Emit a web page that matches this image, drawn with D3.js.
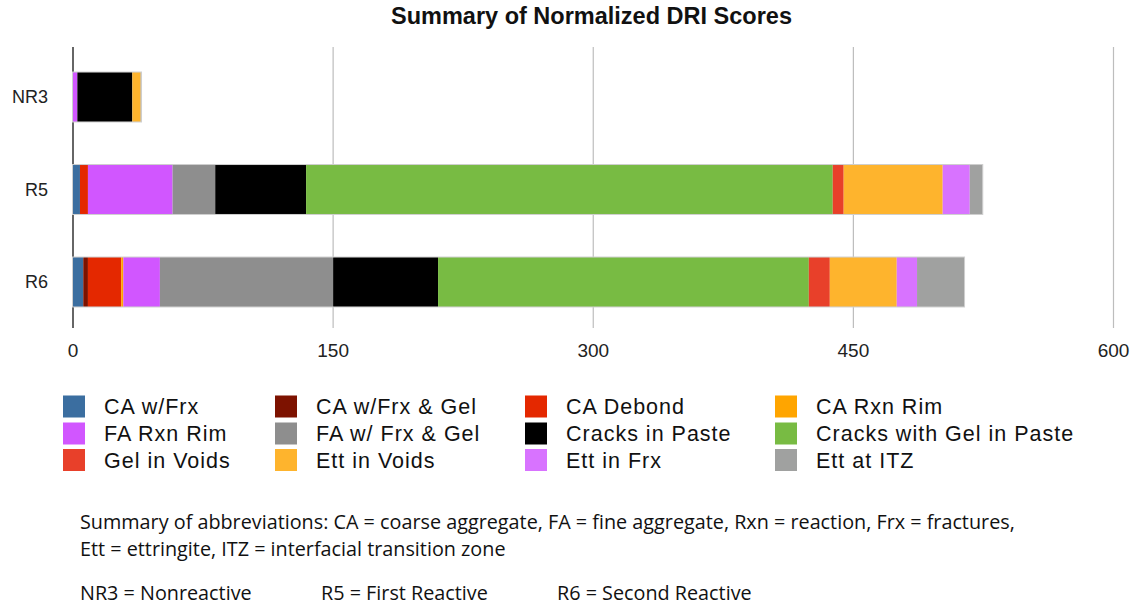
<!DOCTYPE html>
<html>
<head>
<meta charset="utf-8">
<script src="https://cdn.jsdelivr.net/npm/d3@7"></script>
<style>
  html, body { margin: 0; padding: 0; background: #fff; }
  svg { display: block; }
</style>
</head>
<body>
<svg id="chart" width="1133" height="607"></svg>
<script>
// Sample groups (rows of the chart)
const categories = ["NR3", "R5", "R6"];

// Distress features, in stacking order
const seriesNames = [
  "CA w/Frx", "CA w/Frx & Gel", "CA Debond", "CA Rxn Rim",
  "FA Rxn Rim", "FA w/ Frx & Gel", "Cracks in Paste", "Cracks with Gel in Paste",
  "Gel in Voids", "Ett in Voids", "Ett in Frx", "Ett at ITZ"
];

const seriesColors = [
  "#3b6ea0", "#7d1200", "#e42800", "#ffa500",
  "#d156ff", "#8e8e8e", "#000000", "#78bb43",
  "#e8402a", "#feb42d", "#d873ff", "#a0a1a0"
];

// Normalized DRI score for each feature, per sample [NR3, R5, R6]
const caWithFrx        = [0,    4.3,   6.2];
const caWithFrxGel     = [0,    0,     2.7];
const caDebond         = [0,    4.6,  19.2];
const caRxnRim         = [0,    0,     1.2];
const faRxnRim         = [2.8,  48.8,  21.1];
const faWithFrxGel     = [0,    24.6,  99.9];
const cracksInPaste    = [31.7, 52.4,  60.5];
const cracksGelPaste   = [0,    303.7, 213.8];
const gelInVoids       = [0,    6.3,   12.1];
const ettInVoids       = [4.8,  57.1,  38.6];
const ettInFrx         = [0,    15.6,  11.7];
const ettAtITZ         = [0.5,  7.5,   27.4];

const tickValues = [0, 150, 300, 450, 600];

const footLines = [
  "Summary of abbreviations: CA = coarse aggregate, FA = fine aggregate, Rxn = reaction, Frx = fractures,",
  "Ett = ettringite, ITZ = interfacial transition zone"
];
const sampleKey = ["NR3 = Nonreactive", "R5 = First Reactive", "R6 = Second Reactive"];

// Build the table that d3.stack expects
const seriesValues = [
  caWithFrx, caWithFrxGel, caDebond, caRxnRim,
  faRxnRim, faWithFrxGel, cracksInPaste, cracksGelPaste,
  gelInVoids, ettInVoids, ettInFrx, ettAtITZ
];
const table = categories.map((c, i) => {
  const row = { category: c };
  seriesNames.forEach((s, k) => { row[s] = seriesValues[k][i]; });
  return row;
});

const svg = d3.select("#chart");
const font = "'Liberation Sans', Arial, sans-serif";

const x = d3.scaleLinear().domain([0, 600]).range([72.5, 1113]);
const y = d3.scaleBand().domain(categories).range([50.75, 328.25])
  .paddingInner(0.46).paddingOuter(0.23);
const color = d3.scaleOrdinal().domain(seriesNames).range(seriesColors);

const gridTop = 47, gridBottom = 328;

// Title
svg.append("text")
  .attr("x", 591.5).attr("y", 24)
  .attr("text-anchor", "middle")
  .style("font-family", font).style("font-weight", "bold")
  .style("font-size", "23.5px").attr("fill", "#111")
  .text("Summary of Normalized DRI Scores");

// Vertical grid + tick labels
const axis = svg.append("g")
  .attr("transform", `translate(0,${gridBottom})`)
  .call(d3.axisBottom(x).tickValues(tickValues)
    .tickSize(-(gridBottom - gridTop)).tickPadding(16).tickFormat(d3.format("d")));
axis.select(".domain").remove();
axis.selectAll(".tick line").attr("stroke", d => d === 0 ? "#333" : "#bdbdbd").attr("stroke-width", d => d === 0 ? 1.5 : 1.2);
axis.selectAll(".tick text")
  .style("font-family", font).style("font-size", "19px").attr("fill", "#222");

// Stacked bars
const stacked = d3.stack().keys(seriesNames)(table);
const bars = svg.append("g");
bars.selectAll("g.series").data(stacked).join("g")
  .attr("class", "series")
  .attr("fill", d => color(d.key))
  .selectAll("rect").data(d => d).join("rect")
    .attr("x", d => x(d[0]))
    .attr("width", d => Math.max(0, x(d[1]) - x(d[0])))
    .attr("y", d => y(d.data.category))
    .attr("height", y.bandwidth());

// Light outline around each full bar
bars.selectAll("rect.outline").data(table).join("rect")
  .attr("class", "outline")
  .attr("x", x(0))
  .attr("width", d => x(d3.sum(seriesNames, s => d[s])) - x(0))
  .attr("y", d => y(d.category))
  .attr("height", y.bandwidth())
  .attr("fill", "none").attr("stroke", "#cfcfcf").attr("stroke-width", 1);

// Category labels
svg.append("g").selectAll("text").data(categories).join("text")
  .attr("x", 48).attr("y", d => y(d) + y.bandwidth() / 2)
  .attr("dy", "0.35em").attr("text-anchor", "end")
  .style("font-family", font).style("font-size", "18px").attr("fill", "#222")
  .text(d => d);

// Legend: 4 columns x 3 rows
const legendCols = [63, 275, 525, 775];
const legendRows = [406.5, 433.5, 460];
const legend = svg.append("g").selectAll("g").data(seriesNames).join("g")
  .attr("transform", (d, i) => `translate(${legendCols[i % 4]},${legendRows[Math.floor(i / 4)]})`);
legend.append("rect")
  .attr("x", 0).attr("y", -11).attr("width", 22).attr("height", 22)
  .attr("fill", d => color(d));
legend.append("text")
  .attr("x", 41).attr("y", 0).attr("dy", "0.35em")
  .style("font-family", font).style("font-size", "21.5px")
  .style("letter-spacing", "1px").attr("fill", "#111")
  .text(d => d);

// Footnotes
const foot = svg.append("g")
  .style("font-family", "'Open Sans', 'Liberation Sans', sans-serif")
  .style("font-size", "19.8px").attr("fill", "#111");
foot.selectAll("text.line").data(footLines).join("text")
  .attr("class", "line")
  .attr("x", 80).attr("y", (d, i) => 529 + i * 27)
  .text(d => d);
const keyX = [80, 321, 557];
foot.selectAll("text.key").data(sampleKey).join("text")
  .attr("class", "key")
  .attr("x", (d, i) => keyX[i]).attr("y", 600)
  .text(d => d);
</script>
</body>
</html>
